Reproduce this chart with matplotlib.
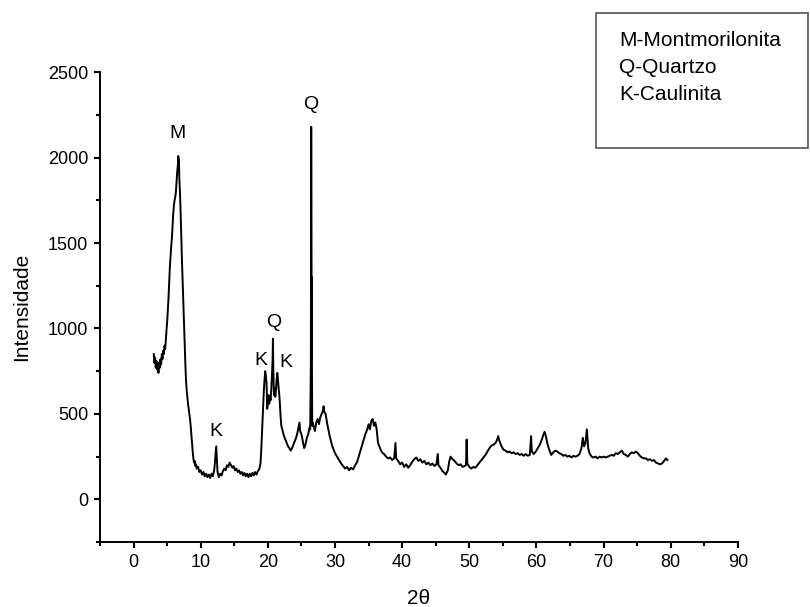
import matplotlib
matplotlib.use('Agg')
import matplotlib.pyplot as plt
from matplotlib.patches import Rectangle
from matplotlib.ticker import MultipleLocator

plt.rcParams['font.family'] = ['Liberation Sans', 'DejaVu Sans']

# difratograma (2theta, intensidade)
two_theta = [
    3.0, 3.1, 3.2, 3.3, 3.4, 3.5, 3.6, 3.7, 3.8, 3.9, 4.0, 4.1, 4.2, 4.3, 4.4, 4.5, 4.6, 4.7, 4.8, 4.9,
    5.0, 5.1, 5.2, 5.3, 5.4, 5.5, 5.6, 5.7, 5.8, 5.9, 6.0, 6.1, 6.2, 6.3, 6.4, 6.5, 6.6, 6.65, 6.7, 6.75,
    6.8, 6.9, 7.0, 7.1, 7.2, 7.3, 7.4, 7.5, 7.6, 7.7, 7.8, 7.9, 8.0, 8.1, 8.2, 8.3, 8.4, 8.5, 8.6, 8.7,
    8.8, 8.9, 9.0, 9.1, 9.2, 9.3, 9.4, 9.6, 9.8, 10.0, 10.2, 10.4, 10.6, 10.8, 11.0, 11.2, 11.4, 11.6, 11.8,
    12.0, 12.1, 12.2, 12.3, 12.4, 12.5, 12.7, 12.9, 13.1, 13.3, 13.5, 13.7, 13.9, 14.1, 14.3, 14.5, 14.7,
    14.9, 15.1, 15.3, 15.5, 15.7, 15.9, 16.1, 16.3, 16.5, 16.7, 16.9, 17.1, 17.3, 17.5, 17.7, 17.9, 18.1,
    18.3, 18.5, 18.7, 18.9, 19.0, 19.1, 19.2, 19.3, 19.4, 19.5, 19.6, 19.7, 19.8, 19.9, 20.0, 20.1, 20.2,
    20.3, 20.4, 20.5, 20.6, 20.7, 20.75, 20.8, 20.9, 21.0, 21.1, 21.2, 21.3, 21.4, 21.5, 21.6, 21.7, 21.8,
    21.9, 22.0, 22.2, 22.4, 22.6, 22.8, 23.0, 23.2, 23.4, 23.6, 23.8, 24.0, 24.2, 24.4, 24.6, 24.7, 24.8,
    25.0, 25.2, 25.4, 25.6, 25.8, 26.0, 26.2, 26.3, 26.4, 26.45, 26.5, 26.52, 26.54, 26.56, 26.6, 26.65,
    26.8, 27.0, 27.2, 27.4, 27.6, 27.8, 28.0, 28.2, 28.3, 28.4, 28.6, 28.8, 29.0, 29.2, 29.4, 29.6, 29.8,
    30.0, 30.3, 30.6, 30.9, 31.2, 31.5, 31.8, 32.1, 32.4, 32.7, 33.0, 33.3, 33.6, 33.9, 34.2, 34.5, 34.8,
    35.0, 35.2, 35.4, 35.6, 35.8, 36.0, 36.2, 36.4, 36.6, 36.8, 37.0, 37.3, 37.6, 37.9, 38.2, 38.5, 38.8,
    39.0, 39.1, 39.4, 39.7, 40.0, 40.3, 40.6, 40.9, 41.2, 41.5, 41.8, 42.1, 42.4, 42.7, 43.0, 43.3, 43.6,
    43.9, 44.2, 44.5, 44.8, 45.1, 45.3, 45.4, 45.7, 46.0, 46.3, 46.5, 46.8, 47.0, 47.2, 47.5, 47.8, 48.1,
    48.4, 48.7, 49.0, 49.3, 49.5, 49.6, 49.7, 50.0, 50.3, 50.6, 50.9, 51.2, 51.5, 51.8, 52.1, 52.4, 52.7,
    53.0, 53.3, 53.6, 53.9, 54.1, 54.3, 54.5, 54.8, 55.1, 55.4, 55.7, 56.0, 56.3, 56.6, 56.9, 57.2, 57.5,
    57.8, 58.1, 58.4, 58.7, 59.0, 59.2, 59.3, 59.6, 59.9, 60.2, 60.5, 60.8, 61.0, 61.2, 61.4, 61.6, 61.9,
    62.2, 62.5, 62.8, 63.1, 63.4, 63.7, 64.0, 64.3, 64.6, 64.9, 65.2, 65.5, 65.8, 66.1, 66.4, 66.7, 66.9,
    67.1, 67.3, 67.5, 67.7, 67.9, 68.2, 68.5, 68.8, 69.1, 69.4, 69.7, 70.0, 70.3, 70.6, 70.9, 71.2, 71.5,
    71.8, 72.1, 72.4, 72.7, 73.0, 73.3, 73.6, 73.9, 74.2, 74.5, 74.8, 75.1, 75.4, 75.7, 76.0, 76.3, 76.6,
    76.9, 77.2, 77.5, 77.8, 78.1, 78.4, 78.7, 79.0, 79.3, 79.5,
]
intensidade = [
    850, 800, 830, 770, 810, 760, 790, 740, 800, 770, 820, 790, 850, 820, 870, 850, 900, 880, 930, 990,
    1040, 1110, 1180, 1270, 1360, 1420, 1480, 1530, 1600, 1670, 1720, 1750, 1770, 1800, 1860, 1920, 1960, 2010, 1940, 1990,
    1890, 1800, 1680, 1530, 1400, 1280, 1170, 1040, 920, 800, 700, 640, 600, 560, 530, 500, 470, 430, 380, 330,
    280, 240, 215, 225, 195, 205, 180, 190, 160, 170, 145, 160, 135, 150, 130, 145, 125, 150, 135,
    170, 210, 260, 310, 240, 160, 130, 150, 140, 165, 180, 170, 200, 190, 215, 200, 185,
    195, 170, 180, 160, 170, 150, 160, 140, 155, 135, 150, 130, 150, 135, 155, 140, 160,
    145, 165, 175, 210, 280, 370, 470, 560, 640, 700, 750, 720, 680, 530, 570, 610, 560,
    600, 580, 640, 720, 820, 940, 780, 610, 650, 600, 640, 700, 740, 700, 650, 610, 550,
    480, 430, 400, 370, 350, 330, 310, 300, 285, 300, 320, 340, 360, 390, 430, 450, 400,
    380, 340, 300, 320, 360, 380, 420, 410, 800, 2180, 1400, 820, 1300, 800, 430, 450,
    430, 400, 450, 470, 440, 480, 500, 520, 545, 510, 500, 450, 410, 370, 340, 310, 290,
    270, 250, 230, 210, 195, 180, 190, 170, 185, 175, 200, 220, 260, 300, 340, 380, 410,
    440, 410, 460, 470, 430, 450, 410, 330, 310, 290, 275, 265, 250, 240, 245, 230, 240,
    330, 240, 225, 205, 215, 190, 205, 185, 200, 220, 235, 245, 225, 235, 215, 225, 205,
    215, 200, 210, 195, 205, 265, 200, 185, 165, 155, 145, 170, 220, 250, 235, 225, 210,
    200, 205, 190, 195, 200, 350, 210, 190, 180, 190, 185, 200, 215, 230, 245, 260, 280,
    300, 315, 320, 330, 345, 370, 340, 310, 290, 285, 275, 280, 270, 275, 265, 270, 260,
    265, 255, 265, 255, 260, 370, 280, 265, 280, 300, 320, 350, 375, 395, 370, 330, 290,
    260, 275, 285, 280, 270, 265, 255, 260, 250, 255, 245, 255, 250, 255, 265, 300, 360,
    310, 330, 410, 300, 270, 250, 245, 250, 240, 250, 245, 250, 245, 250, 255, 260, 255,
    270, 265, 275, 285, 265, 260, 250, 265, 275, 270, 280, 270, 255, 245, 240, 240, 230,
    235, 225, 230, 215, 210, 205, 210, 225, 240, 230,
]

# rotulos dos picos
picos_txt = ["M", "K", "K", "Q", "K", "Q"]
picos_x = [6.5, 12.3, 19.0, 20.9, 22.7, 26.4]
picos_y = [2140, 400, 810, 1035, 800, 2310]

legenda = ["M-Montmorilonita", "Q-Quartzo", "K-Caulinita"]

fig = plt.figure(figsize=(8.1, 6.07), dpi=100)
ax = fig.add_axes([0.1235, 0.107, 0.7875, 0.774])

ax.plot(two_theta, intensidade, color='black', linewidth=1.4)

for txt, px, py in zip(picos_txt, picos_x, picos_y):
    ax.text(px, py, txt, fontsize=14, ha='center', va='center')

ax.set_xlim(-5, 90)
ax.set_ylim(-250, 2500)
ax.xaxis.set_major_locator(MultipleLocator(10))
ax.xaxis.set_minor_locator(MultipleLocator(5))
ax.yaxis.set_major_locator(MultipleLocator(500))
ax.yaxis.set_minor_locator(MultipleLocator(250))
ax.tick_params(which='major', direction='out', length=4.5, width=1.5, labelsize=13, pad=4)
ax.tick_params(which='minor', direction='out', length=3, width=1.5)
ax.spines['top'].set_visible(False)
ax.spines['right'].set_visible(False)
ax.spines['left'].set_linewidth(1.4)
ax.spines['bottom'].set_linewidth(1.4)

ax.set_xlabel("2θ", fontsize=15, labelpad=13)
ax.set_ylabel("Intensidade", fontsize=15, labelpad=12)

fig.patches.append(Rectangle((0.736, 0.756), 0.262, 0.222, transform=fig.transFigure,
                             fill=False, edgecolor='#555555', linewidth=1.2))
for i, linha in enumerate(legenda):
    fig.text(0.764, 0.934 - i * 0.045, linha, fontsize=15, va='center')

plt.savefig("out.png", dpi=100)
plt.close()
